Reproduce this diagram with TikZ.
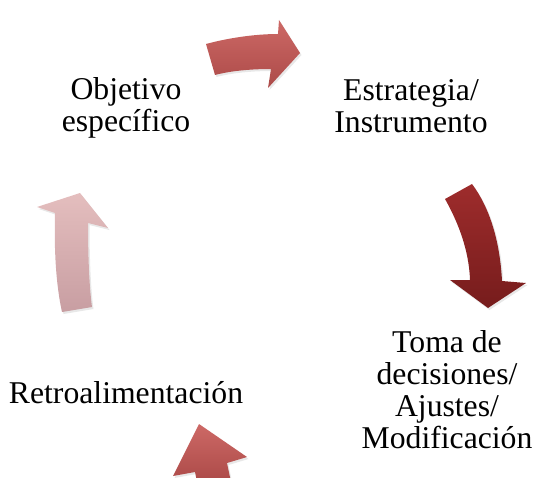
\documentclass[tikz,border=0pt]{standalone}
\usepackage{fontspec}
\setmainfont{Liberation Serif}
\usetikzlibrary{shadows}
\definecolor{aoneT}{RGB}{205,105,102}
\definecolor{aoneB}{RGB}{172,74,72}
\definecolor{atwoT}{RGB}{158,44,44}
\definecolor{atwoB}{RGB}{118,28,28}
\definecolor{afourT}{RGB}{228,190,190}
\definecolor{afourB}{RGB}{200,158,162}
\tikzset{
  lbl/.style={font=\fontsize{31.7}{32}\selectfont, align=center, inner sep=0pt, anchor=base},
  arr/.style={draw=none, drop shadow={opacity=0.18, shadow xshift=1.5pt, shadow yshift=-2pt}},
}
\begin{document}
\begin{tikzpicture}[x=1pt,y=-1pt]
\useasboundingbox (0,0) rectangle (537,478);
\clip (0,0) rectangle (537,478);
% arrows
\path[arr, top color=aoneT, bottom color=aoneB]
  (206,44) .. controls (228,38) and (255,34) .. (278,34) -- (279,20) -- (300,53) -- (268,88) -- (271,69)
  .. controls (250,69) and (230,71) .. (215,75) -- cycle;
\path[arr, top color=atwoT, bottom color=atwoB]
  (445,199) .. controls (458,222) and (469,250) .. (470,280) -- (450,280) -- (488,308) -- (526,283) -- (502,281)
  .. controls (500,242) and (490,208) .. (472,184) -- cycle;
\path[arr, top color=aoneT, bottom color=aoneB]
  (199,424) -- (247,457) -- (227,463) -- (231,482) -- (197,482) -- (195,472) -- (173,476) -- cycle;
\path[arr, top color=afourT, bottom color=afourB]
  (55,213) -- (37,207) -- (80,193) -- (108,228) -- (88,223)
  .. controls (88,252) and (89,285) .. (92,307) -- (62,312)
  .. controls (56,285) and (54,250) .. (55,213) -- cycle;
% labels (base anchor = baseline of the last line)
\node[lbl] (obj) at (126,132) {Objetivo\\específico};
\node[lbl] (est) at (411,133) {Estrategia/\\Instrumento};
\node[lbl] (toma) at (447,448) {Toma de\\decisiones/\\Ajustes/\\Modificación};
\node[lbl] (retro) at (126,403) {Retroalimentación};
\end{tikzpicture}
\end{document}
